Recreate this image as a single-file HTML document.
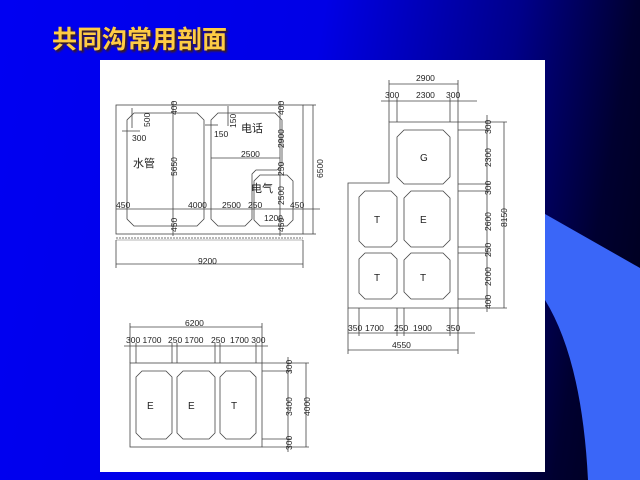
<!DOCTYPE html>
<html><head><meta charset="utf-8"><style>
html,body{margin:0;padding:0;width:640px;height:480px;overflow:hidden}
body{background:linear-gradient(100deg,#0000f2 0%,#0000e6 45%,#00008a 72%,#000030 88%,#000018 100%);position:relative;font-family:"Liberation Sans",sans-serif}
.t{position:absolute;left:52px;top:20px;font:bold 25px "Liberation Sans","Noto Sans CJK SC",sans-serif;color:#ffcc44;text-shadow:2px 2px 2px #442200;letter-spacing:0px}
svg{position:absolute;left:0;top:0}
</style></head><body>
<svg width="640" height="480" viewBox="0 0 640 480">
<path d="M545,214 L640,268 L640,480 L588,480 Q582,360 545,300 Z" fill="#3a66f8"/>
<rect x="100" y="60" width="445" height="412" fill="#fff"/>
<g fill="none" stroke="#444" stroke-width="0.8">
<rect x="116" y="105" width="187" height="129"/>
<polygon points="134,113 197,113 204,120 204,219 197,226 134,226 127,219 127,120"/>
<polygon points="218,113 275,113 282,120 282,165 277,170 256,170 252,174 252,219 245,226 218,226 211,219 211,120"/>
<polygon points="260,175 287,175 293,181 293,220 287,226 260,226 254,220 254,181"/>
<line x1="116" y1="238" x2="303" y2="238" stroke-dasharray="2,1"/>
<line x1="116" y1="240" x2="303" y2="240" stroke-width="0.4"/>
<line x1="116" y1="264" x2="303" y2="264"/>
<line x1="116" y1="240" x2="116" y2="268"/><line x1="303" y1="240" x2="303" y2="268"/>
<line x1="173" y1="101" x2="173" y2="236"/>
<line x1="280" y1="101" x2="280" y2="236"/>
<line x1="313" y1="105" x2="313" y2="234"/>
<line x1="303" y1="105" x2="316" y2="105"/><line x1="303" y1="234" x2="316" y2="234"/>
<line x1="116" y1="209" x2="320" y2="209"/>
<line x1="211" y1="158" x2="280" y2="158"/>
<line x1="122" y1="131" x2="140" y2="131"/><line x1="132" y1="108" x2="132" y2="128"/>
<line x1="205" y1="125" x2="218" y2="125"/><line x1="228" y1="106" x2="228" y2="126"/>
<polygon points="389,122 458,122 458,308 348,308 348,183 389,183"/>
<polygon points="404,130 443,130 450,137 450,177 443,184 404,184 397,177 397,137"/>
<polygon points="365,191 391,191 397,197 397,241 391,247 365,247 359,241 359,197"/>
<polygon points="411,191 443,191 450,198 450,240 443,247 411,247 404,240 404,198"/>
<polygon points="365,253 391,253 397,259 397,293 391,299 365,299 359,293 359,259"/>
<polygon points="411,253 443,253 450,260 450,292 443,299 411,299 404,292 404,260"/>
<line x1="389" y1="84" x2="458" y2="84"/><line x1="389" y1="80" x2="389" y2="122"/><line x1="458" y1="80" x2="458" y2="122"/>
<line x1="381" y1="101" x2="477" y2="101"/><line x1="397" y1="98" x2="397" y2="122"/><line x1="450" y1="98" x2="450" y2="122"/>
<line x1="487" y1="115" x2="487" y2="312"/><line x1="504" y1="122" x2="504" y2="308"/>
<line x1="458" y1="122" x2="507" y2="122"/><line x1="458" y1="130" x2="490" y2="130"/>
<line x1="458" y1="184" x2="490" y2="184"/><line x1="458" y1="191" x2="490" y2="191"/>
<line x1="458" y1="247" x2="490" y2="247"/><line x1="458" y1="253" x2="490" y2="253"/>
<line x1="458" y1="299" x2="490" y2="299"/><line x1="458" y1="308" x2="507" y2="308"/>
<line x1="348" y1="333" x2="475" y2="333"/><line x1="348" y1="350" x2="458" y2="350"/>
<line x1="348" y1="308" x2="348" y2="354"/><line x1="458" y1="308" x2="458" y2="354"/>
<line x1="359" y1="308" x2="359" y2="336"/><line x1="397" y1="308" x2="397" y2="336"/>
<line x1="404" y1="308" x2="404" y2="336"/><line x1="450" y1="308" x2="450" y2="336"/>
<rect x="130" y="363" width="132" height="84"/>
<polygon points="142,371 166,371 172,377 172,433 166,439 142,439 136,433 136,377"/>
<polygon points="183,371 209,371 215,377 215,433 209,439 183,439 177,433 177,377"/>
<polygon points="226,371 250,371 256,377 256,433 250,439 226,439 220,433 220,377"/>
<line x1="130" y1="327" x2="262" y2="327"/><line x1="130" y1="323" x2="130" y2="363"/><line x1="262" y1="323" x2="262" y2="363"/>
<line x1="124" y1="346" x2="268" y2="346"/>
<line x1="136" y1="343" x2="136" y2="363"/><line x1="172" y1="343" x2="172" y2="363"/><line x1="177" y1="343" x2="177" y2="363"/>
<line x1="215" y1="343" x2="215" y2="363"/><line x1="220" y1="343" x2="220" y2="363"/><line x1="256" y1="343" x2="256" y2="363"/>
<line x1="288" y1="357" x2="288" y2="452"/><line x1="306" y1="363" x2="306" y2="447"/>
<line x1="262" y1="363" x2="309" y2="363"/><line x1="262" y1="371" x2="291" y2="371"/>
<line x1="262" y1="439" x2="291" y2="439"/><line x1="262" y1="447" x2="309" y2="447"/>
</g>
<g font-family="Liberation Sans, Noto Sans CJK SC, sans-serif" font-size="8.5" fill="#222">
<text x="132" y="141">300</text>
<text x="188" y="208">4000</text>
<text x="116" y="208">450</text>
<text x="222" y="208">2500</text>
<text x="248" y="208">250</text>
<text x="290" y="208">450</text>
<text x="264" y="221">1200</text>
<text x="241" y="157">2500</text>
<text x="214" y="137">150</text>
<text x="198" y="264">9200</text>
<text x="241" y="132" font-size="11">电话</text>
<text x="133" y="167" font-size="11">水管</text>
<text x="251" y="192" font-size="11">电气</text>
<g transform="rotate(-90)">
<text x="-115" y="177">400</text>
<text x="-176" y="177">5650</text>
<text x="-232" y="177">450</text>
<text x="-127" y="150">500</text>
<text x="-128" y="236">150</text>
<text x="-115" y="284">400</text>
<text x="-148" y="284">2900</text>
<text x="-176" y="284">250</text>
<text x="-205" y="284">2500</text>
<text x="-232" y="284">450</text>
<text x="-178" y="323">6500</text>
<text x="-134" y="491">300</text>
<text x="-167" y="491">2300</text>
<text x="-195" y="491">300</text>
<text x="-231" y="491">2600</text>
<text x="-257" y="491">250</text>
<text x="-286" y="491">2000</text>
<text x="-309" y="491">400</text>
<text x="-227" y="507">8150</text>
<text x="-374" y="292">300</text>
<text x="-416" y="292">3400</text>
<text x="-450" y="292">300</text>
<text x="-416" y="310">4000</text>
</g>
<text x="416" y="81">2900</text>
<text x="385" y="98">300</text>
<text x="416" y="98">2300</text>
<text x="446" y="98">300</text>
<text x="348" y="331">350</text>
<text x="365" y="331">1700</text>
<text x="394" y="331">250</text>
<text x="413" y="331">1900</text>
<text x="446" y="331">350</text>
<text x="392" y="348">4550</text>
<text x="185" y="326">6200</text>
<text x="126" y="343">300 1700</text>
<text x="168" y="343">250 1700</text>
<text x="211" y="343">250</text>
<text x="230" y="343">1700 300</text>
<g font-size="10">
<text x="420" y="161">G</text>
<text x="374" y="223">T</text>
<text x="420" y="223">E</text>
<text x="374" y="281">T</text>
<text x="420" y="281">T</text>
<text x="147" y="409">E</text>
<text x="188" y="409">E</text>
<text x="231" y="409">T</text>
</g>
</g>
</svg>
<div class="t">共同沟常用剖面</div>
</body></html>
